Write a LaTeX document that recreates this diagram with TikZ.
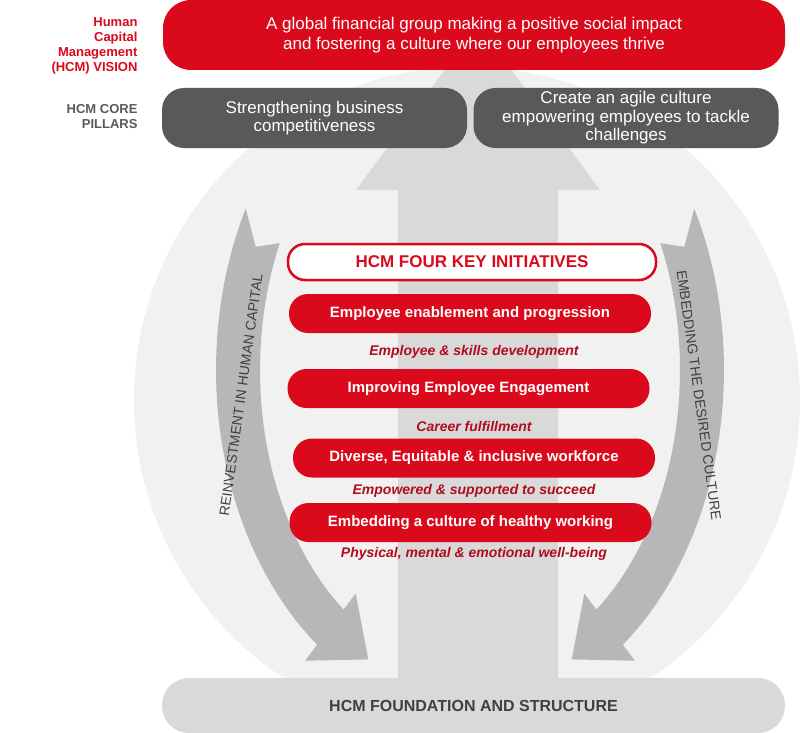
\documentclass[tikz,border=0pt]{standalone}
\usepackage{fontspec}
\setmainfont{Liberation Sans}
\definecolor{hred}{HTML}{DA0A1C}
\definecolor{dred}{HTML}{B00C1E}
\definecolor{pgray}{HTML}{595959}
\definecolor{lcirc}{HTML}{F1F1F1}
\definecolor{uparr}{HTML}{D9D9D9}
\definecolor{carr}{HTML}{B7B7B7}
\definecolor{tgray}{HTML}{404040}
\begin{document}
\begin{tikzpicture}[x=1pt,y=-1pt,
  pill/.style={fill=hred,text=white,rounded corners=19pt,minimum width=362pt,minimum height=39pt,font=\fontsize{15}{18}\selectfont\bfseries},
  sub/.style={text=dred,font=\fontsize{14}{17}\selectfont\bfseries\itshape},
  pillar/.style={fill=pgray,text=white,rounded corners=22pt,minimum width=305pt,minimum height=60pt,align=center,font=\fontsize{17}{18.5}\selectfont},
  side/.style={align=right,anchor=east,font=\fontsize{13}{15}\selectfont\bfseries},
  bandtext/.style={text=tgray,font=\fontsize{14}{17}\selectfont}]
\useasboundingbox (0,0) rectangle (800,733);
\begin{scope}
\clip (0,0) rectangle (800,733);
\fill[lcirc] (467,400) circle[radius=333];
\end{scope}
% up arrow
\fill[uparr] (398,678) -- (398,190) -- (356,190) -- (478,25) -- (600,190) -- (558,190) -- (558,678) -- cycle;
% curved arrows
\foreach \s in {1,-1}{
\begin{scope}[shift={({470*(1-\s)},0)},xscale=\s]
\fill[carr] plot[domain=152:233,samples=40] ({470+254*cos(\x)},{370-344*sin(\x)})
 -- ({470+274*cos(233)},{370-364*sin(233)})
 -- ({470+232*cos(244)},{370-322*sin(244)})
 -- ({470+190*cos(233)},{370-280*sin(233)})
 -- plot[domain=233:155,samples=40] ({470+210*cos(\x)},{370-300*sin(\x)})
 -- ({470+232*cos(157.5)},{370-322*sin(157.5)}) -- cycle;
\end{scope}}
\node[bandtext,rotate=82] (ltxt) at (241,395) {REINVESTMENT IN HUMAN CAPITAL};
\node[bandtext,rotate=-82] (rtxt) at (699,395) {EMBEDDING THE DESIRED CULTURE};
% top bars
\node[fill=hred,text=white,rounded corners=28pt,minimum width=622pt,minimum height=70pt,align=center,font=\fontsize{17}{20}\selectfont] (vis) at (474,35) {A global financial group making a positive social impact\\and fostering a culture where our employees thrive};
\node[pillar] (p1) at (314.5,118) {Strengthening business\\competitiveness};
\node[pillar] (p2) at (626,118) {Create an agile culture\\empowering employees to tackle\\challenges};
\node[side,text=hred] (lv) at (141,46) {Human\\Capital\\Management\\(HCM) VISION};
\node[side,text=pgray] (lp) at (141,117) {HCM CORE\\PILLARS};
% initiatives
\node[draw=hred,line width=2.5pt,fill=white,rounded corners=17pt,minimum width=368pt,minimum height=36pt,text=hred,font=\fontsize{17}{20}\selectfont\bfseries] (t) at (472,262) {HCM FOUR KEY INITIATIVES};
\node[pill] (i1) at (470,313.5) {Employee enablement and progression};
\node[sub] (s1) at (474,352) {Employee \& skills development};
\node[pill] (i2) at (468.5,388.5) {Improving Employee Engagement};
\node[sub] (s2) at (474,426) {Career fulfillment};
\node[pill] (i3) at (474,458) {Diverse, Equitable \& inclusive workforce};
\node[sub] (s3) at (474,491) {Empowered \& supported to succeed};
\node[pill] (i4) at (470.5,522.5) {Embedding a culture of healthy working};
\node[sub] (s4) at (474,554) {Physical, mental \& emotional well-being};
% foundation
\node[fill=uparr,text=tgray,rounded corners=27pt,minimum width=623pt,minimum height=55pt,font=\fontsize{16}{19}\selectfont\bfseries] (f) at (473.5,705.5) {HCM FOUNDATION AND STRUCTURE};
\end{tikzpicture}
\end{document}
